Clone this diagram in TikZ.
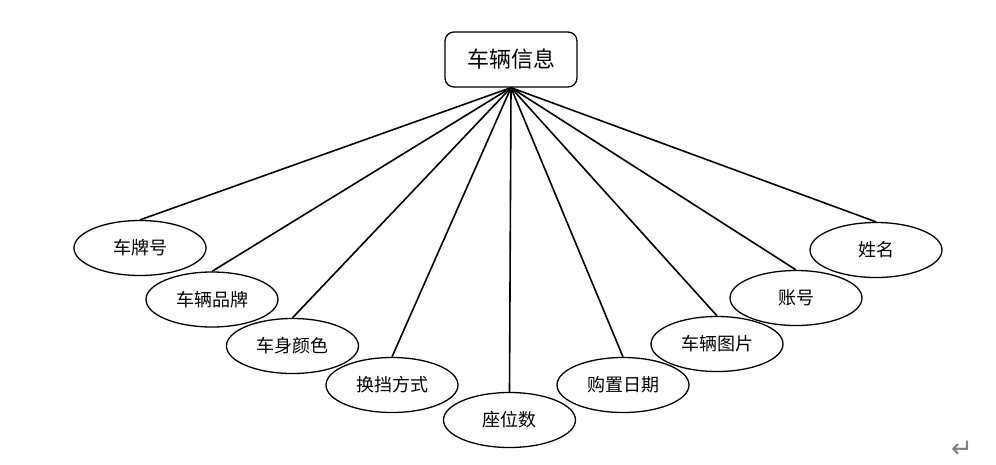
\documentclass[tikz,border=0pt]{standalone}
\usepackage{fontspec}
\setmainfont{Noto Sans CJK SC}
\newfontfamily\symfont{DejaVu Sans}
\usetikzlibrary{shapes.geometric}
\tikzset{
	er diagram/.style={
		x=1pt,y=-1pt,
		font=\fontsize{18}{20}\selectfont,
		attribute edge/.style={line width=1.6pt}
	},
	entity/.style={
		rectangle,
		rounded corners=9pt,
		draw,
		line width=1.3pt,
		minimum width=132pt,
		minimum height=55pt,
		font=\fontsize{22}{24}\selectfont
	},
	attribute/.style={
		ellipse,
		draw,
		line width=1.3pt,
		minimum width=132pt,
		minimum height=55pt,
		inner sep=0pt
	}
}

\begin{document}
\begin{tikzpicture}[er diagram]
		\useasboundingbox (0,0) rectangle (996,464);
		\node[entity] (info) at (511,59.5) {车辆信息};
		\node[attribute] (plate) at (140,248) {车牌号};
		\node[attribute] (brand) at (212,299.5) {车辆品牌};
		\node[attribute] (color) at (292.5,346) {车身颜色};
		\node[attribute] (gear) at (392,385) {换挡方式};
		\node[attribute] (seats) at (509.5,420) {座位数};
		\node[attribute] (date) at (623,385) {购置日期};
		\node[attribute] (photo) at (717,344) {车辆图片};
		\node[attribute] (account) at (796,298) {账号};
		\node[attribute] (name) at (876,250) {姓名};
		\foreach \attr in {plate,brand,color,gear,seats,date,photo,account,name}
			\draw[attribute edge] (info.south) -- (\attr.north);
		\node[text=gray,font=\symfont\fontsize{26}{26}\selectfont] (mark) at (962,449) {↵};
	\end{tikzpicture}
\end{document}
